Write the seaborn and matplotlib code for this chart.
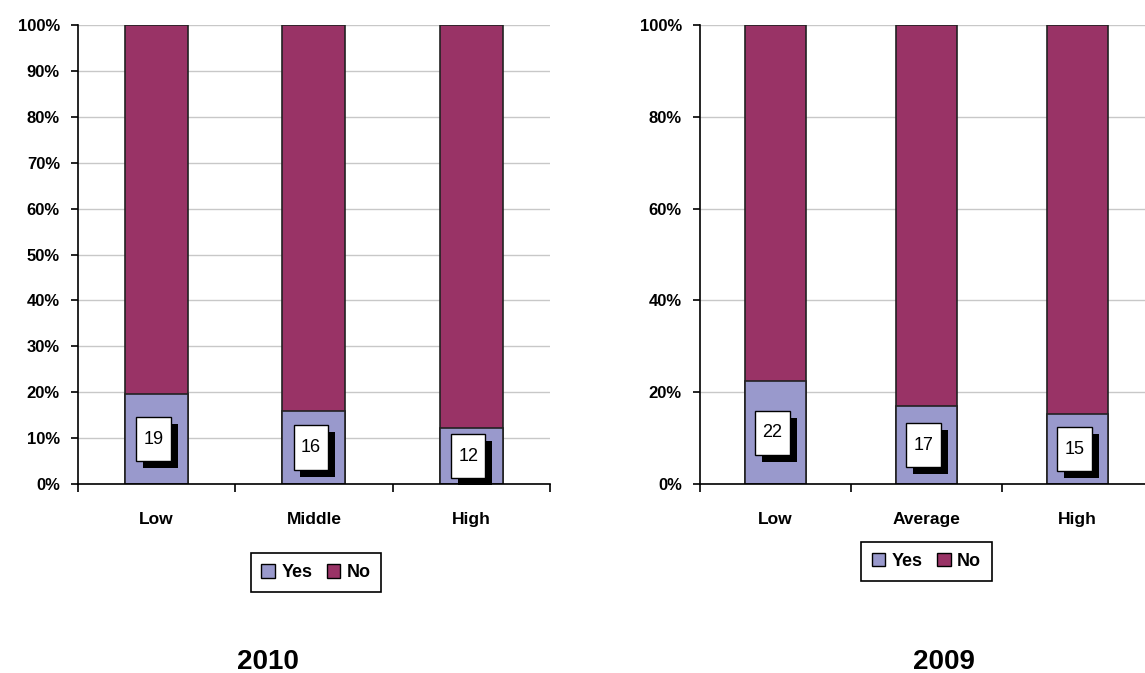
import numpy as np
import pandas as pd
import seaborn as sns
import matplotlib.pyplot as plt
import matplotlib.patheffects as pe
from matplotlib.patches import Patch
from matplotlib.path import Path
from matplotlib.ticker import PercentFormatter, FixedLocator

sns.set_style("white")
plt.rcParams["font.family"] = ["Liberation Sans", "DejaVu Sans"]
plt.rcParams["text.color"] = "black"
plt.rcParams["xtick.color"] = "black"
plt.rcParams["ytick.color"] = "black"

# 2010 panel
cats_2010 = ["Low", "Middle", "High"]
yes_2010 = [19.6, 15.9, 12.2]
labels_2010 = ["19", "16", "12"]

# 2009 panel
cats_2009 = ["Low", "Average", "High"]
yes_2009 = [22.4, 17.0, 15.2]
labels_2009 = ["22", "17", "15"]

yes_color = "#9999cc"
no_color = "#993366"

fig = plt.figure(figsize=(11.45, 6.73), dpi=100)
ax_l = fig.add_axes([0.0681, 0.2808, 0.4122, 0.6820])
ax_r = fig.add_axes([0.6114, 0.2808, 0.3956, 0.6820])


def tall_box(x0, y0, width, height, mutation_size):
    # label box a bit taller than wide, like the excel data labels
    px, py = 0.4 * mutation_size, 0.75 * mutation_size
    x1, y1 = x0 + width + px, y0 + height + py
    x0, y0 = x0 - px, y0 - py
    return Path([(x0, y0), (x1, y0), (x1, y1), (x0, y1), (x0, y0)], closed=True)


def draw_panel(ax, cats, yes, labels, step):
    df = pd.DataFrame({"cat": cats, "yes": yes, "total": [100] * len(cats)})
    sns.barplot(data=df, x="cat", y="total", color=no_color, width=0.4,
                edgecolor="#222222", linewidth=1.2, saturation=1, ax=ax)
    sns.barplot(data=df, x="cat", y="yes", color=yes_color, width=0.4,
                edgecolor="#222222", linewidth=1.2, saturation=1, ax=ax)
    ax.set_ylim(0, 100)
    ax.set_xlim(-0.5, 2.5)
    ax.set_yticks(np.arange(0, 101, step))
    ax.yaxis.set_major_formatter(PercentFormatter(decimals=0))
    ax.yaxis.grid(True, color="#c8c8c8", linewidth=1)
    ax.set_axisbelow(True)
    for s in ["top", "right"]:
        ax.spines[s].set_visible(False)
    for s in ["left", "bottom"]:
        ax.spines[s].set_color("black")
        ax.spines[s].set_linewidth(1.2)
    ax.set_xlabel("")
    ax.set_ylabel("")
    # ticks at category boundaries, labels centered on the bars
    ax.xaxis.set_major_locator(FixedLocator([-0.5, 0.5, 1.5, 2.5]))
    ax.xaxis.set_major_formatter(plt.NullFormatter())
    ax.xaxis.set_minor_locator(FixedLocator(range(len(cats))))
    ax.set_xticklabels(cats, minor=True)
    ax.tick_params(axis="x", which="major", direction="out", length=6, width=1.2, color="black", bottom=True)
    ax.tick_params(axis="x", which="minor", length=0, pad=20, labelsize=12.5)
    ax.tick_params(axis="y", direction="out", length=5, width=1.2, color="black", left=True, labelsize=12, pad=8)
    for t in ax.get_xticklabels(minor=True) + ax.get_yticklabels():
        t.set_fontweight("bold")
    for i, (v, lab) in enumerate(zip(yes, labels)):
        t = ax.text(i - 0.02, v / 2, lab, ha="center", va="center", fontsize=13,
                    bbox=dict(boxstyle=tall_box, fc="white", ec="black", lw=1))
        t.get_bbox_patch().set_path_effects(
            [pe.SimplePatchShadow(offset=(5, -5), shadow_rgbFace="black", alpha=1), pe.Normal()])


draw_panel(ax_l, cats_2010, yes_2010, labels_2010, 10)
draw_panel(ax_r, cats_2009, yes_2009, labels_2009, 20)

handles = [Patch(facecolor=yes_color, edgecolor="black", label="Yes"),
           Patch(facecolor=no_color, edgecolor="black", label="No")]
leg_kw = dict(ncol=2, loc="center", fancybox=False, edgecolor="black", framealpha=1,
              handlelength=0.75, handleheight=0.75, handletextpad=0.35, columnspacing=0.8,
              borderpad=0.6, prop={"weight": "bold", "size": 13})
leg1 = fig.legend(handles=handles, bbox_to_anchor=(0.276, 0.149), **leg_kw)
leg2 = fig.legend(handles=handles, bbox_to_anchor=(0.809, 0.166), **leg_kw)
for leg in (leg1, leg2):
    leg.get_frame().set_linewidth(1.2)

fig.text(0.234, 0.016, "2010", ha="center", va="center", fontsize=20, fontweight="bold")
fig.text(0.824, 0.016, "2009", ha="center", va="center", fontsize=20, fontweight="bold")

fig.savefig("out.png", dpi=100)
